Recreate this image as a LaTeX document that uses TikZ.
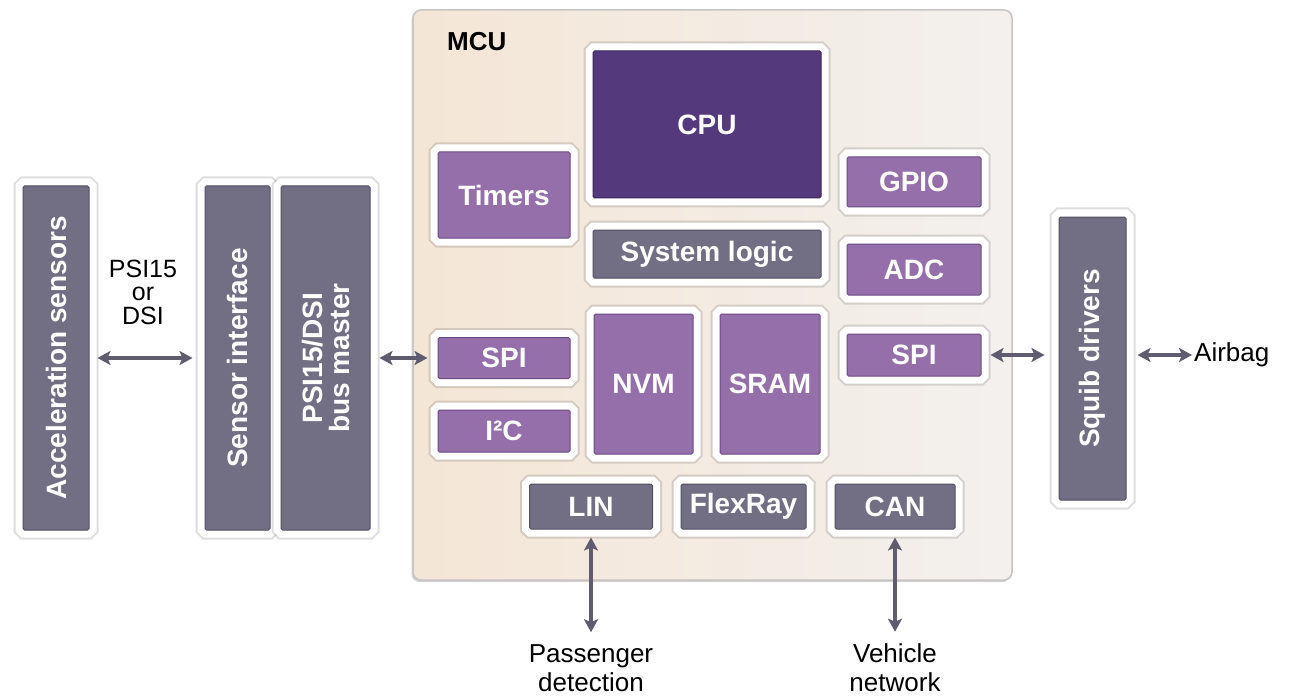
\documentclass[tikz,border=0pt]{standalone}
\usepackage{fontspec}
\setmainfont{Liberation Sans}
\usetikzlibrary{arrows.meta}

\definecolor{gboxc}{RGB}{114,111,133}
\definecolor{gboxe}{RGB}{82,79,98}
\definecolor{pboxc}{RGB}{148,111,170}
\definecolor{pboxe}{RGB}{108,74,134}
\definecolor{cpuc}{RGB}{84,58,124}
\definecolor{cpue}{RGB}{58,38,92}
\definecolor{mcuL}{RGB}{244,230,214}
\definecolor{mcuR}{RGB}{243,240,238}
\definecolor{mcuE}{RGB}{200,196,196}
\definecolor{arrc}{RGB}{95,92,112}

\begin{document}
\begin{tikzpicture}[x=1pt,y=-1pt,
  blk/.style={rounded corners=1.5pt, line width=1pt, inner sep=0pt, text=white,
    font=\fontsize{28}{27}\selectfont\bfseries, align=center,
    preaction={draw=black, draw opacity=0.13, line width=19pt},
    preaction={draw=white, line width=15pt}},
  grayblk/.style={blk, fill=gboxc, draw=gboxe},
  purpblk/.style={blk, fill=pboxc, draw=pboxe},
  cpublk/.style={blk, fill=cpuc, draw=cpue},
  mcubox/.style={rounded corners=8pt, draw=mcuE, line width=1.5pt,
    left color=mcuL, right color=mcuR, inner sep=0pt,
    preaction={fill=black, fill opacity=0.18, transform canvas={xshift=-1.5pt, yshift=-2pt}}},
  txt/.style={inner sep=0pt, align=center, text=black},
  link/.style={draw=arrc, line width=3.5pt,
    {Stealth[length=13pt,width=14pt,inset=3pt]}-{Stealth[length=13pt,width=14pt,inset=3pt]}}
]
\useasboundingbox (0,0) rectangle (1294,698);
\fill[white] (0,0) rectangle (1294,698);

% microcontroller outline
\node[mcubox, minimum width=599pt, minimum height=570pt] (mcu) at (712.5,295) {};
\node[txt, anchor=west, font=\fontsize{26}{26}\selectfont\bfseries] (mculbl) at (447,42) {MCU};

% sensor side
\node[grayblk, rotate=90, minimum width=344pt, minimum height=66pt] (acc) at (56,358) {Acceleration sensors};
\node[grayblk, rotate=90, minimum width=344pt, minimum height=65pt] (sens) at (237.5,358) {Sensor interface};
\node[grayblk, rotate=90, minimum width=344pt, minimum height=89pt] (bus) at (325.5,358) {PSI15/DSI\\bus master};
\node[txt, font=\fontsize{25}{23.5}\selectfont] (psi) at (143,292) {PSI15\\or\\DSI};

% blocks inside the MCU
\node[cpublk, minimum width=228pt, minimum height=147pt] (cpu) at (707,124.5) {CPU};
\node[purpblk, minimum width=132pt, minimum height=86pt] (tim) at (504,195) {Timers};
\node[purpblk, minimum width=134pt, minimum height=50pt] (gpio) at (914,182) {GPIO};
\node[grayblk, minimum width=228pt, minimum height=48pt] (sys) at (707,254) {System logic};
\node[purpblk, minimum width=134pt, minimum height=51pt] (adc) at (914,269.5) {ADC};
\node[purpblk, minimum width=132pt, minimum height=41pt] (spil) at (504,358) {SPI};
\node[purpblk, minimum width=132pt, minimum height=42pt] (i2c) at (504,431) {I²C};
\node[purpblk, minimum width=99pt, minimum height=140pt] (nvm) at (643.5,384) {NVM};
\node[purpblk, minimum width=100pt, minimum height=140pt] (sram) at (770,384) {SRAM};
\node[purpblk, minimum width=134pt, minimum height=42pt] (spir) at (914,355) {SPI};
\node[grayblk, minimum width=123pt, minimum height=45pt] (lin) at (591,506.5) {LIN};
\node[grayblk, minimum width=125pt, minimum height=45pt] (flex) at (743.5,506.5) {FlexRay};
\node[grayblk, minimum width=120pt, minimum height=45pt] (can) at (895,506.5) {CAN};

% actuator side
\node[grayblk, rotate=90, minimum width=283pt, minimum height=67pt] (squib) at (1092.5,358.5) {Squib drivers};
\node[txt, anchor=west, font=\fontsize{26}{26}\selectfont] (airbag) at (1194,355) {Airbag};

% external labels below
\node[txt, font=\fontsize{26}{29}\selectfont] (pass) at (591,668) {Passenger\\detection};
\node[txt, font=\fontsize{26}{29}\selectfont] (veh) at (895,668) {Vehicle\\network};

% connectors (squib is turned, so its north side faces left)
\draw[link, shorten <=8pt, shorten >=12pt] (acc) -- (sens);
\draw[link, shorten <=9pt, shorten >=10pt] (bus) -- (spil);
\draw[link, shorten <=9pt, shorten >=14pt] (spir.east) -- (spir.east -| squib.north);
\draw[link, shorten <=11pt, shorten >=2pt] (airbag.west -| squib.south) -- (airbag.west);
\draw[link, shorten <=8pt, shorten >=12pt] (lin.south) -- (pass.north);
\draw[link, shorten <=8pt, shorten >=12pt] (can.south) -- (veh.north);
\end{tikzpicture}
\end{document}
